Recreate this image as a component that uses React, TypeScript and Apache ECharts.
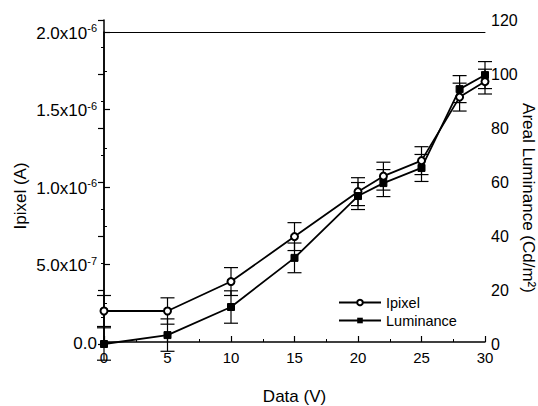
import React, { useEffect, useRef } from "react";
import * as echarts from "echarts";

const xValues = [0, 5, 10, 15, 20, 22, 25, 28, 30];
const ipixel = [2.0e-7, 2.0e-7, 3.9e-7, 6.8e-7, 9.7e-7, 1.07e-6, 1.17e-6, 1.58e-6, 1.68e-6];
const ipixelErr = [1.0e-7, 0.85e-7, 0.9e-7, 0.9e-7, 0.9e-7, 0.9e-7, 0.9e-7, 0.9e-7, 0.8e-7];
const luminance = [0, 3.3, 13.7, 31.9, 54.8, 59.6, 65.2, 94.4, 99.6];
const luminanceErr = [6, 6, 6, 5.5, 5, 5, 5, 5, 5];
const xTicks = ["0", "5", "10", "15", "20", "25", "30"];
const leftTicks: [string, string][] = [
  ["0.0", ""],
  ["5.0x10", "-7"],
  ["1.0x10", "-6"],
  ["1.5x10", "-6"],
  ["2.0x10", "-6"],
];
const rightTicks = ["0", "20", "40", "60", "80", "100", "120"];

const FONT = "Liberation Sans";

function errRender(params: any, api: any) {
  const x = api.value(0);
  const y = api.value(1);
  const e = api.value(2);
  const p1 = api.coord([x, y + e]);
  const p2 = api.coord([x, y - e]);
  const w = 7;
  const style = { stroke: "#000", lineWidth: 1.2 };
  return {
    type: "group",
    children: [
      { type: "line", shape: { x1: p1[0], y1: p1[1], x2: p2[0], y2: p2[1] }, style },
      { type: "line", shape: { x1: p1[0] - w, y1: p1[1], x2: p1[0] + w, y2: p1[1] }, style },
      { type: "line", shape: { x1: p2[0] - w, y1: p2[1], x2: p2[0] + w, y2: p2[1] }, style },
    ],
  };
}

export default function App() {
  const ref = useRef<HTMLDivElement>(null);
  useEffect(() => {
    if (!ref.current) return;
    const chart = echarts.init(ref.current, null, { renderer: "svg" });
    const axisLine = { show: true, lineStyle: { color: "#000", width: 1.5 } };
    const tick = { show: true, inside: true, length: 6, lineStyle: { color: "#000", width: 1.2 } };
    const minor = { show: true, splitNumber: 2, length: 3, lineStyle: { color: "#000", width: 1 } };
    chart.setOption({
      animation: false,
      backgroundColor: "#fff",
      textStyle: { fontFamily: FONT, color: "#000" },
      grid: [
        { left: 104, right: 53, top: 32, bottom: 64, outerBoundsMode: "none", containLabel: false },
        { left: 104, right: 53, top: 20, bottom: 62, outerBoundsMode: "none", containLabel: false },
      ],
      legend: {
        data: ["Ipixel", "Luminance"],
        orient: "vertical",
        left: 333,
        top: 290,
        itemWidth: 42,
        itemHeight: 7,
        itemGap: 3,
        textStyle: { fontSize: 14.5, fontFamily: FONT, color: "#000" },
      },
      xAxis: [
        {
          type: "value",
          gridIndex: 0,
          min: 0,
          max: 30,
          interval: 5,
          position: "bottom",
          name: "Data (V)",
          nameLocation: "middle",
          nameGap: 46,
          nameMoveOverlap: false,
          nameTextStyle: { fontSize: 17, fontFamily: FONT, color: "#000" },
          axisLine,
          axisTick: tick,
          minorTick: minor,
          splitLine: { show: false },
          axisLabel: {
            fontSize: 15,
            fontFamily: FONT,
            color: "#000",
            margin: 8,
            formatter: (_v: number, i: number) => xTicks[i] ?? "",
          },
        },
        {
          type: "value",
          gridIndex: 0,
          min: 0,
          max: 30,
          interval: 5,
          position: "top",
          axisLine: { show: true, lineStyle: { color: "#000", width: 1 } },
          axisTick: { show: false },
          axisLabel: { show: false },
          splitLine: { show: false },
        },
        {
          type: "value",
          gridIndex: 1,
          min: 0,
          max: 30,
          interval: 5,
          show: false,
        },
      ],
      yAxis: [
        {
          type: "value",
          gridIndex: 0,
          min: 0,
          max: 2e-6,
          interval: 5e-7,
          position: "left",
          name: "Ipixel (A)",
          nameLocation: "middle",
          nameGap: 75,
          nameMoveOverlap: false,
          nameTextStyle: { fontSize: 17, fontFamily: FONT, color: "#000", padding: [0, 18, 0, 0] },
          axisLine,
          axisTick: tick,
          minorTick: minor,
          splitLine: { show: false },
          axisLabel: {
            margin: 7,
            formatter: (_v: number, i: number) => {
              const t = leftTicks[i];
              if (!t) return "";
              return t[1] ? `{m|${t[0]}}{e|${t[1]}}` : `{m|${t[0]}}`;
            },
            rich: {
              m: { fontSize: 17, fontFamily: FONT, color: "#000", verticalAlign: "bottom", lineHeight: 19 },
              e: { fontSize: 11, fontFamily: FONT, color: "#000", verticalAlign: "top", lineHeight: 19 },
            },
          },
        },
        {
          type: "value",
          gridIndex: 1,
          min: 0,
          max: 120,
          interval: 20,
          position: "right",
          name: "Areal Luminance (Cd/m²)",
          nameLocation: "middle",
          nameRotate: -90,
          nameGap: 35,
          nameMoveOverlap: false,
          nameTextStyle: { fontSize: 17, fontFamily: FONT, color: "#000", padding: [0, 0, 0, 32] },
          axisLine,
          axisTick: tick,
          minorTick: minor,
          splitLine: { show: false },
          axisLabel: {
            fontSize: 16,
            fontFamily: FONT,
            color: "#000",
            margin: 6,
            formatter: (_v: number, i: number) => rightTicks[i] ?? "",
          },
        },
      ],
      series: [
        {
          type: "custom",
          name: "IpixelErr",
          xAxisIndex: 0,
          yAxisIndex: 0,
          renderItem: errRender,
          encode: { x: 0, y: 1 },
          data: xValues.map((x, i) => [x, ipixel[i], ipixelErr[i]]),
          z: 2,
          silent: true,
        },
        {
          type: "custom",
          name: "LuminanceErr",
          xAxisIndex: 2,
          yAxisIndex: 1,
          renderItem: errRender,
          encode: { x: 0, y: 1 },
          data: xValues.map((x, i) => [x, luminance[i], luminanceErr[i]]),
          z: 2,
          silent: true,
        },
        {
          type: "line",
          name: "Ipixel",
          xAxisIndex: 0,
          yAxisIndex: 0,
          data: xValues.map((x, i) => [x, ipixel[i]]),
          symbol: "emptyCircle",
          symbolSize: 7,
          lineStyle: { color: "#000", width: 1.8 },
          itemStyle: { color: "#000", borderColor: "#000", borderWidth: 1.2 },
          z: 3,
        },
        {
          type: "line",
          name: "Luminance",
          xAxisIndex: 2,
          yAxisIndex: 1,
          data: xValues.map((x, i) => [x, luminance[i]]),
          symbol: "rect",
          symbolSize: 7,
          lineStyle: { color: "#000", width: 1.8 },
          itemStyle: { color: "#000", borderColor: "#000" },
          z: 3,
        },
      ],
    });
    return () => chart.dispose();
  }, []);
  return (
    <div
      ref={ref}
      style={{ position: "fixed", left: 0, top: 0, width: 538, height: 406, background: "#fff" }}
    />
  );
}
